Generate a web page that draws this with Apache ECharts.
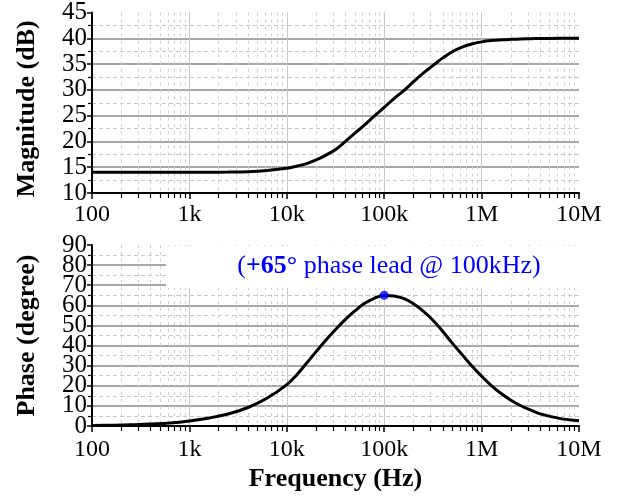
<!DOCTYPE html>
<html>
<head>
<meta charset="utf-8">
<script src="https://cdn.jsdelivr.net/npm/echarts@6/dist/echarts.min.js"></script>
<style>
  html, body { margin: 0; padding: 0; background: #fff; }
  #chart { width: 622px; height: 499px; }
</style>
</head>
<body>
<div id="chart"></div>
<script>
// Bode plot of a lead compensator: magnitude and phase against frequency,
// sampled more densely through the transition region
const freqHz = [100, 160, 250, 400, 630, 1000, 1600, 2500, 4000, 6300,
  10000, 12600, 16000, 20000, 25000, 32000, 40000, 50000, 63000, 79000,
  100000, 126000, 160000, 200000, 250000, 320000, 400000, 500000, 630000, 790000,
  1000000, 1260000, 1600000, 2000000, 2500000, 3200000, 4000000, 6300000, 10000000];
const magnitudeDb = [14.0, 14.0, 14.0, 14.0, 14.0, 14.0, 14.02, 14.05, 14.14, 14.38,
  14.8, 15.2, 15.7, 16.4, 17.3, 18.5, 20.0, 21.6, 23.2, 24.9,
  26.6, 28.3, 29.9, 31.6, 33.2, 34.8, 36.2, 37.4, 38.3, 38.9,
  39.3, 39.55, 39.7, 39.8, 39.88, 39.92, 39.95, 39.99, 40.0];
const phaseDeg = [0.3, 0.4, 0.6, 1.0, 1.5, 2.5, 4.0, 6.0, 9.2, 13.9,
  20.6, 25.4, 31.3, 37.0, 42.5, 48.2, 53.0, 57.2, 61.0, 63.5,
  64.9, 64.6, 63.3, 60.8, 57.2, 52.3, 47.0, 41.2, 35.5, 30.0,
  24.8, 20.1, 16.0, 12.8, 10.2, 7.9, 6.0, 3.8, 2.6];
const freqTickLabels = ['100', '1k', '10k', '100k', '1M', '10M'];
const phaseTicks = [0, 10, 20, 30, 40, 50, 60, 70, 80, 90];
const peakFreqHz = [100000];
const peakPhaseDeg = [65];

const serif = '"Liberation Serif", "Times New Roman", serif';

function freqAxis(gridIndex, labelMargin, withName) {
  const axis = {
    type: 'log', logBase: 10, gridIndex: gridIndex, min: 100, max: 1e7,
    axisLine: { show: true, onZero: false, lineStyle: { color: '#000', width: 2 } },
    axisTick: { show: true, inside: false, length: 6, lineStyle: { color: '#000', width: 1.5 } },
    minorTick: { show: true, splitNumber: 9, length: 5, lineStyle: { color: '#000', width: 1.2 } },
    axisLabel: {
      fontFamily: serif, fontSize: 24, color: '#000', margin: labelMargin,
      showMinLabel: true, showMaxLabel: true, hideOverlap: false,
      formatter: v => freqTickLabels[Math.round(Math.log10(v)) - 2]
    },
    splitLine: { show: true, showMinLine: false, showMaxLine: false, lineStyle: { color: '#c8c8c8', width: 1 } },
    minorSplitLine: { show: true, lineStyle: { color: '#cfcfcf', width: 1, type: [3, 4] } }
  };
  if (withName) {
    axis.name = 'Frequency (Hz)';
    axis.nameLocation = 'middle';
    axis.nameGap = 40;
    axis.nameTextStyle = { fontFamily: serif, fontWeight: 'bold', fontSize: 26, color: '#000' };
  }
  return axis;
}

const yLabelStyle = { fontFamily: serif, fontSize: 25, color: '#000', margin: 5 };

function valueAxis(gridIndex, min, max, interval, name, namePad, labelValues) {
  const axis = {
    type: 'value', gridIndex: gridIndex, min: min, max: max, interval: interval, position: 'left',
    name: name, nameLocation: 'middle', nameGap: 52,
    nameTextStyle: { fontFamily: serif, fontWeight: 'bold', fontSize: 26, color: '#000', padding: namePad },
    axisLine: { show: true, lineStyle: { color: '#000', width: 2 } },
    axisTick: { show: true, inside: false, length: 5, lineStyle: { color: '#000', width: 1.5 } },
    minorTick: { show: true, splitNumber: 2, length: 4, lineStyle: { color: '#000', width: 1.2 } },
    axisLabel: Object.assign({ showMinLabel: true, showMaxLabel: true }, yLabelStyle),
    splitLine: { show: true, showMinLine: false, showMaxLine: false, lineStyle: { color: '#8a8a8a', width: 1.5 } },
    minorSplitLine: { show: true, lineStyle: { color: '#c8c8c8', width: 1, type: [4, 3] } }
  };
  if (labelValues) axis.axisLabel.customValues = labelValues;
  return axis;
}

// Second, bare label-only axis so that closely spaced phase labels are all kept
function labelOnlyAxis(gridIndex, min, max, interval, labelValues) {
  return {
    type: 'value', gridIndex: gridIndex, min: min, max: max, interval: interval, position: 'left',
    axisLine: { show: false }, axisTick: { show: false }, minorTick: { show: false },
    splitLine: { show: false }, minorSplitLine: { show: false },
    axisLabel: Object.assign({ customValues: labelValues }, yLabelStyle)
  };
}

const chart = echarts.init(document.getElementById('chart'), null, { renderer: 'canvas' });

const peakText = '({b|+' + peakPhaseDeg[0] + '°} phase lead @ ' + (peakFreqHz[0] / 1000) + 'kHz)';

chart.setOption({
  animation: false,
  backgroundColor: '#fff',
  grid: [
    { left: 92, right: 43, top: 12, height: 181 },
    { left: 92, right: 43, top: 245, height: 181 }
  ],
  xAxis: [freqAxis(0, 10, false), freqAxis(1, 12, true)],
  yAxis: [
    valueAxis(0, 10, 45, 5, 'Magnitude (dB)', [0, 12, 0, 0], null),
    valueAxis(1, 0, 90, 10, 'Phase (degree)', [0, 0, 0, 0], phaseTicks.filter((v, i) => i % 2 === 0)),
    labelOnlyAxis(1, 0, 90, 10, phaseTicks.filter((v, i) => i % 2 === 1))
  ],
  graphic: {
    elements: [
      { type: 'rect', z: 1, shape: { x: 166, y: 246, width: 414, height: 42 }, style: { fill: '#fff' } },
      {
        type: 'text', z: 10, x: 389, y: 266,
        style: {
          text: peakText, fill: '#0000ff', font: '26px ' + serif,
          align: 'center', verticalAlign: 'middle',
          rich: { b: { fontWeight: 'bold', fontSize: 26, fontFamily: serif, fill: '#0000ff' } }
        }
      }
    ]
  },
  series: [
    {
      type: 'line', xAxisIndex: 0, yAxisIndex: 0, showSymbol: false, smooth: 0.4,
      data: freqHz.map((f, i) => [f, magnitudeDb[i]]),
      lineStyle: { color: '#000', width: 3 }
    },
    {
      type: 'line', xAxisIndex: 1, yAxisIndex: 1, showSymbol: false, smooth: 0.4,
      data: freqHz.map((f, i) => [f, phaseDeg[i]]),
      lineStyle: { color: '#000', width: 3 }
    },
    {
      type: 'scatter', xAxisIndex: 1, yAxisIndex: 1, z: 5, symbolSize: 9,
      data: peakFreqHz.map((f, i) => [f, peakPhaseDeg[i]]),
      itemStyle: { color: '#0000ff' }
    }
  ]
});
</script>
</body>
</html>
